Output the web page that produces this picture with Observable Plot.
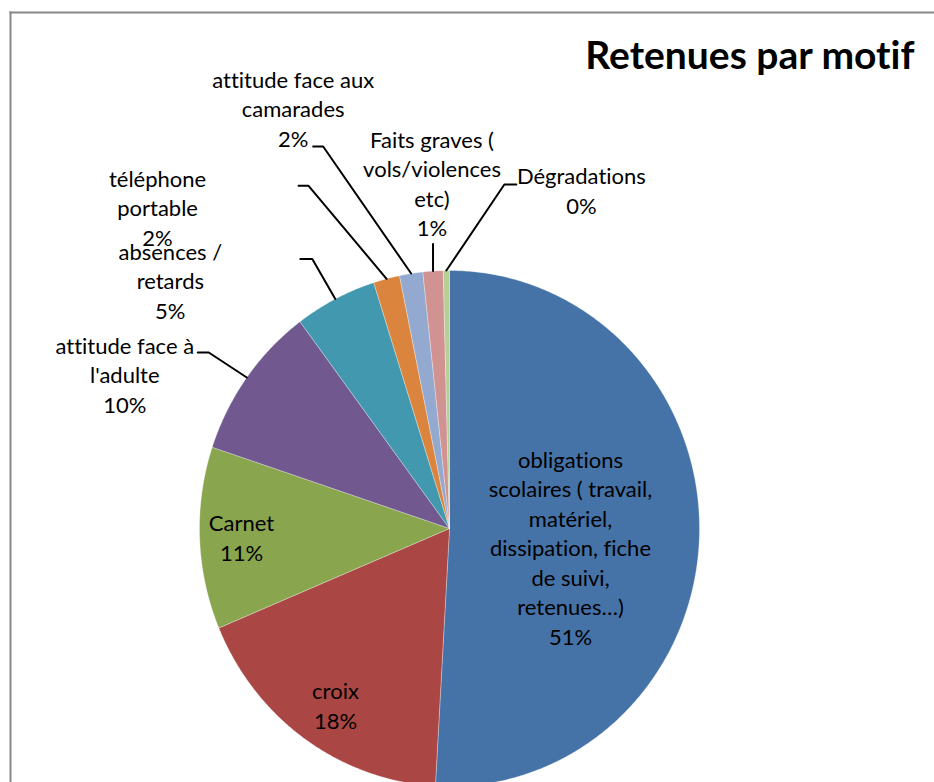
<!DOCTYPE html>
<html>
<head>
<meta charset="utf-8">
<script src="https://cdn.jsdelivr.net/npm/d3@7"></script>
<script src="https://cdn.jsdelivr.net/npm/@observablehq/plot@0.6"></script>
<style>
  html, body { margin: 0; padding: 0; background: #fff; overflow: hidden; }
  svg text { font-variant-ligatures: none; }
</style>
</head>
<body>
<div id="chart"></div>
<script>
// ---- data ----
const title = "Retenues par motif";
const categories = [
  "obligations scolaires",
  "croix",
  "Carnet",
  "attitude face à l'adulte",
  "absences / retards",
  "téléphone portable",
  "attitude face aux camarades",
  "Faits graves",
  "Dégradations"
];
const labelTexts = [
  "obligations\nscolaires ( travail,\nmatériel,\ndissipation, fiche\nde suivi,\nretenues…)",
  "croix",
  "Carnet",
  "attitude face à\nl'adulte",
  "absences /\nretards",
  "téléphone\nportable",
  "attitude face aux\ncamarades",
  "Faits graves (\nvols/violences\netc)",
  "Dégradations"
];
const shares = [50.9, 17.8, 11.4, 9.7, 5.3, 1.7, 1.5, 1.3, 0.4];
const colors = ["#4572A7", "#AA4643", "#89A54E", "#71588F", "#4198AF", "#DB843D", "#93A9CF", "#D19392", "#B9CD96"];

// ---- layout (pixels) ----
const W = 934, H = 782;
const CX = 449, CY = 528, RX = 250, RY = 258;
const FONT = "Lato";
const FS = 22, LH = 29.5 / 22;
// inside labels: offset of label anchor (center, last baseline) from pie centre
const insideLayout = {0: [121, 116], 1: [-114, 200], 2: [-208, 32]};
// outside labels: elbow offset from rim point, tail length, text offset from elbow
const outsideLayout = {
  3: {elbow: [-38, -25], tail: -11, text: [-84, 60]},
  4: {elbow: [-23, -40], tail: -12, text: [-142, 60]},
  5: {elbow: [-78, -93], tail: -10, text: [-151, 60]},
  6: {elbow: [-88, -127], tail: -10, text: [-30, 0]},
  7: {elbow: [0, -27], tail: 0, text: [-1, -8]},
  8: {elbow: [58, -86], tail: 12, text: [77, 29]}
};

// ---- geometry from data ----
const arcs = d3.pie().sort(null).value(d => d)(shares);
const slicePts = arcs.flatMap((a, i) => {
  const n = Math.max(2, Math.ceil((a.endAngle - a.startAngle) / (Math.PI / 360)));
  const pts = [{cat: categories[i], x: 0, y: 0}];
  for (let k = 0; k <= n; k++) {
    const t = a.startAngle + (a.endAngle - a.startAngle) * k / n;
    pts.push({cat: categories[i], x: Math.sin(t), y: Math.cos(t)});
  }
  pts.push({cat: categories[i], x: 0, y: 0});
  return pts;
});
const off = (p, dx, dy) => ({x: p.x + dx / RX, y: p.y - dy / RY});
const labels = [];
const leaderPts = [];
arcs.forEach((a, i) => {
  const pct = Math.round(shares[i]) + "%";
  const text = labelTexts[i] + "\n" + pct;
  if (insideLayout[i]) {
    const [dx, dy] = insideLayout[i];
    labels.push({...off({x: 0, y: 0}, dx, dy), text});
  } else {
    const L = outsideLayout[i];
    const mid = (a.startAngle + a.endAngle) / 2;
    const rim = {x: Math.sin(mid), y: Math.cos(mid)};
    const elbow = off(rim, L.elbow[0], L.elbow[1]);
    const tail = off(elbow, L.tail, 0);
    [rim, elbow, tail].forEach(p => leaderPts.push({cat: categories[i], ...p}));
    labels.push({...off(elbow, L.text[0], L.text[1]), text});
  }
});

const chart = Plot.plot({
  width: W,
  height: H,
  marginLeft: 10,
  marginTop: 12,
  marginRight: 0,
  marginBottom: 0,
  x: {domain: [-CX / RX, (W - CX) / RX], range: [0, W], axis: null},
  y: {domain: [-(H - CY) / RY, CY / RY], range: [H, 0], axis: null},
  color: {domain: categories, range: colors},
  style: {background: "#fff", overflow: "visible"},
  marks: [
    Plot.frame({anchor: "left", stroke: "#878787", strokeWidth: 2}),
    Plot.frame({anchor: "top", stroke: "#878787", strokeWidth: 2}),
    Plot.line(slicePts, {x: "x", y: "y", z: "cat", fill: "cat", stroke: "white", strokeWidth: 0.5, strokeOpacity: 0.6, curve: "linear"}),
    Plot.line(leaderPts, {x: "x", y: "y", z: "cat", stroke: "#000", strokeWidth: 2, curve: "linear"}),
    Plot.text(labels, {x: "x", y: "y", text: "text", textAnchor: "middle", lineAnchor: "bottom", lineHeight: LH, fontSize: FS, fontFamily: FONT, fill: "#000"}),
    Plot.text([title], {frameAnchor: "top-right", dx: -20, dy: 56, lineAnchor: "bottom", textAnchor: "end", fontSize: 39, fontWeight: "bold", fontFamily: FONT, fill: "#000"})
  ]
});
document.getElementById("chart").appendChild(chart);
</script>
</body>
</html>
